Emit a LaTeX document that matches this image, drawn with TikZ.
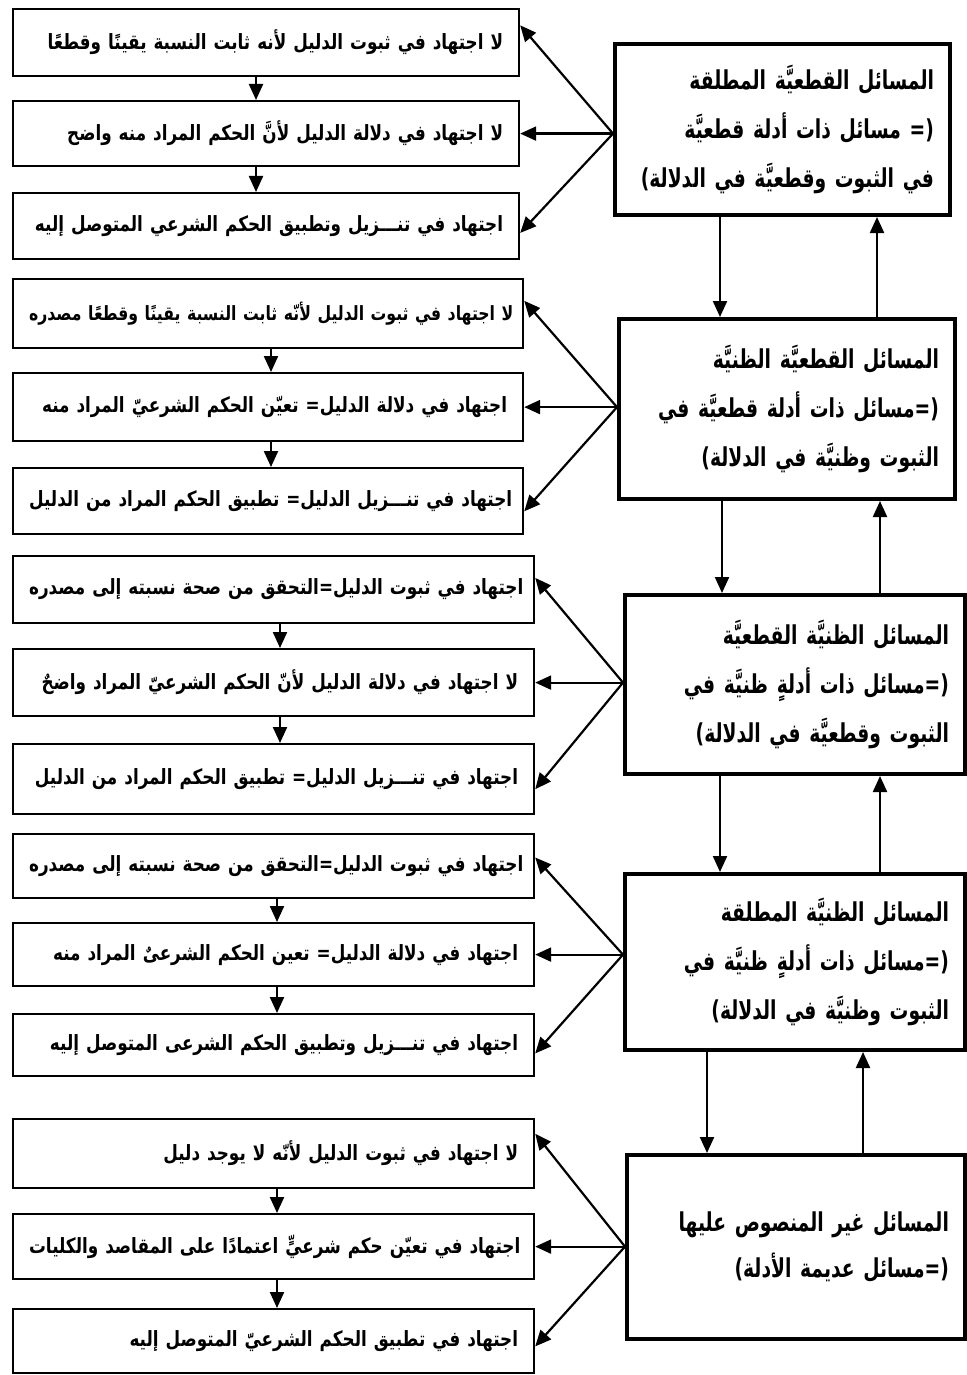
\documentclass[tikz,border=0pt]{standalone}
\usepackage{fontspec}
\newfontfamily\arabicfont[Script=Arabic,FakeStretch=0.8]{DejaVu Sans}
\newfontfamily\arabicmain[Script=Arabic,FakeStretch=0.72]{DejaVu Sans}
\TeXXeTstate=1
\usetikzlibrary{arrows.meta,calc}
\newcommand\rtltext[1]{\mbox{\beginR #1\endR}}
\tikzset{
  smallbox/.style={draw, line width=2.2pt, anchor=north west, inner xsep=16pt, inner ysep=0pt,
    align=right, font=\arabicfont\bfseries\fontsize{21}{25}\selectfont},
  mainbox/.style={draw, line width=4pt, anchor=north west, inner xsep=16pt, inner ysep=0pt,
    align=right, font=\arabicmain\bfseries\fontsize{26}{49}\selectfont},
  arr/.style={line width=2.2pt, -{Triangle[length=16pt,width=14pt]}},
}
\begin{document}
\begin{tikzpicture}[x=1pt,y=-1pt]
\useasboundingbox (0,0) rectangle (966,1375);
% group 1
\node[smallbox, minimum width=506pt, minimum height=67pt, text width=474pt] (a1) at (12,8) {\rtltext{لا اجتهاد في ثبوت الدليل لأنه ثابت النسبة يقينًا وقطعًا}};
\node[smallbox, minimum width=506pt, minimum height=65pt, text width=474pt] (a2) at (12,100) {\rtltext{لا اجتهاد في دلالة الدليل لأنَّ الحكم المراد منه واضح}};
\node[smallbox, minimum width=506pt, minimum height=66pt, text width=474pt] (a3) at (12,192) {\rtltext{اجتهاد في تنـــزيل وتطبيق الحكم الشرعي المتوصل إليه}};
\node[mainbox, minimum width=335pt, minimum height=171pt, text width=303pt] (m1) at (613,42) {\rtltext{المسائل القطعيَّة المطلقة}\\\rtltext{(= مسائل ذات أدلة قطعيَّة}\\\rtltext{في الثبوت وقطعيَّة في الدلالة)}};
% group 2
\node[smallbox, minimum width=510pt, minimum height=69pt, text width=478pt, font=\arabicfont\bfseries\fontsize{19.6}{24}\selectfont] (b1) at (12,278) {\rtltext{لا اجتهاد في ثبوت الدليل لأنّه ثابت النسبة يقينًا وقطعًا مصدره}};
\node[smallbox, minimum width=510pt, minimum height=68pt, text width=478pt] (b2) at (12,372) {\rtltext{اجتهاد في دلالة الدليل= تعيّن الحكم الشرعيّ المراد منه}};
\node[smallbox, minimum width=510pt, minimum height=66pt, text width=478pt] (b3) at (12,467) {\rtltext{اجتهاد في تنـــزيل الدليل= تطبيق الحكم المراد من الدليل}};
\node[mainbox, minimum width=336pt, minimum height=180pt, text width=304pt] (m2) at (617,317) {\rtltext{المسائل القطعيَّة الظنيَّة}\\\rtltext{(=مسائل ذات أدلة قطعيَّة في}\\\rtltext{الثبوت وظنيَّة في الدلالة)}};
% group 3
\node[smallbox, minimum width=521pt, minimum height=67pt, text width=489pt] (c1) at (12,555) {\rtltext{اجتهاد في ثبوت الدليل=التحقق من صحة نسبته إلى  مصدره}};
\node[smallbox, minimum width=521pt, minimum height=67pt, text width=489pt] (c2) at (12,648) {\rtltext{لا اجتهاد في دلالة الدليل لأنّ الحكم الشرعيّ المراد واضحٌ}};
\node[smallbox, minimum width=521pt, minimum height=70pt, text width=489pt] (c3) at (12,743) {\rtltext{اجتهاد في تنـــزيل الدليل= تطبيق الحكم المراد من الدليل}};
\node[mainbox, minimum width=340pt, minimum height=179pt, text width=308pt] (m3) at (623,593) {\rtltext{المسائل الظنيَّة القطعيَّة}\\\rtltext{(=مسائل ذات أدلةٍ ظنيَّة في}\\\rtltext{الثبوت وقطعيَّة في الدلالة)}};
% group 4
\node[smallbox, minimum width=521pt, minimum height=64pt, text width=489pt] (d1) at (12,833) {\rtltext{اجتهاد في ثبوت الدليل=التحقق من صحة نسبته إلى مصدره}};
\node[smallbox, minimum width=521pt, minimum height=63pt, text width=489pt] (d2) at (12,922) {\rtltext{اجتهاد في دلالة الدليل= تعين الحكم الشرعىٌ المراد منه}};
\node[smallbox, minimum width=521pt, minimum height=62pt, text width=489pt] (d3) at (12,1013) {\rtltext{اجتهاد في تنـــزيل وتطبيق الحكم الشرعى المتوصل إليه}};
\node[mainbox, minimum width=340pt, minimum height=176pt, text width=308pt] (m4) at (623,872) {\rtltext{المسائل الظنيَّة المطلقة}\\\rtltext{(=مسائل ذات أدلةٍ ظنيَّة في}\\\rtltext{الثبوت وظنيَّة في الدلالة)}};
% group 5
\node[smallbox, minimum width=521pt, minimum height=69pt, text width=489pt] (e1) at (12,1118) {\rtltext{لا اجتهاد في ثبوت الدليل لأنّه لا يوجد دليل}};
\node[smallbox, minimum width=521pt, minimum height=65pt, text width=489pt] (e2) at (12,1213) {\rtltext{اجتهاد في تعيّن حكم شرعيٍّ اعتمادًا على المقاصد والكليات}};
\node[smallbox, minimum width=521pt, minimum height=64pt, text width=489pt] (e3) at (12,1308) {\rtltext{اجتهاد في تطبيق الحكم الشرعيّ المتوصل إليه}};
\node[mainbox, minimum width=338pt, minimum height=184pt, text width=306pt, font=\arabicmain\bfseries\fontsize{26}{46}\selectfont] (m5) at (625,1153) {\rtltext{المسائل غير المنصوص عليها}\\\rtltext{(=مسائل عديمة الأدلة)}};
% fan-out origins on the main boxes
\coordinate (o1) at (m1.west |- a2.east);
\coordinate (o2) at (m2.west |- b2.east);
\coordinate (o3) at (m3.west |- c2.east);
\coordinate (o4) at (m4.west |- d2.east);
\coordinate (o5) at (m5.west |- e2.east);
% arrows from main boxes to left boxes
\draw[arr] (o1) -- ($(a1.north east)!0.25!(a1.south east)$);
\draw[arr] (o1) -- (a2.east);
\draw[arr] (o1) -- ($(a3.north east)!0.60!(a3.south east)$);
\draw[arr] (o2) -- ($(b1.north east)!0.32!(b1.south east)$);
\draw[arr] (o2) -- (b2.east);
\draw[arr] (o2) -- ($(b3.north east)!0.65!(b3.south east)$);
\draw[arr] (o3) -- ($(c1.north east)!0.33!(c1.south east)$);
\draw[arr] (o3) -- (c2.east);
\draw[arr] (o3) -- ($(c3.north east)!0.64!(c3.south east)$);
\draw[arr] (o4) -- ($(d1.north east)!0.37!(d1.south east)$);
\draw[arr] (o4) -- (d2.east);
\draw[arr] (o4) -- ($(d3.north east)!0.63!(d3.south east)$);
\draw[arr] (o5) -- ($(e1.north east)!0.22!(e1.south east)$);
\draw[arr] (o5) -- (e2.east);
\draw[arr] (o5) -- ($(e3.north east)!0.58!(e3.south east)$);
% arrows between left boxes
\coordinate (xa) at (256,0);
\coordinate (xb) at (271,0);
\coordinate (xc) at (280,0);
\coordinate (xd) at (277,0);
\coordinate (xe) at (277,0);
\draw[arr] (a1.south -| xa) -- (a2.north -| xa);
\draw[arr] (a2.south -| xa) -- (a3.north -| xa);
\draw[arr] (b1.south -| xb) -- (b2.north -| xb);
\draw[arr] (b2.south -| xb) -- (b3.north -| xb);
\draw[arr] (c1.south -| xc) -- (c2.north -| xc);
\draw[arr] (c2.south -| xc) -- (c3.north -| xc);
\draw[arr] (d1.south -| xd) -- (d2.north -| xd);
\draw[arr] (d2.south -| xd) -- (d3.north -| xd);
\draw[arr] (e1.south -| xe) -- (e2.north -| xe);
\draw[arr] (e2.south -| xe) -- (e3.north -| xe);
% arrows between main boxes
\coordinate (d12) at (720,0);
\coordinate (u12) at (877,0);
\coordinate (d23) at (722,0);
\coordinate (u23) at (880,0);
\coordinate (d34) at (720,0);
\coordinate (u34) at (880,0);
\coordinate (d45) at (707,0);
\coordinate (u45) at (863,0);
\draw[arr] (m1.south -| d12) -- (m2.north -| d12);
\draw[arr] (m2.north -| u12) -- (m1.south -| u12);
\draw[arr] (m2.south -| d23) -- (m3.north -| d23);
\draw[arr] (m3.north -| u23) -- (m2.south -| u23);
\draw[arr] (m3.south -| d34) -- (m4.north -| d34);
\draw[arr] (m4.north -| u34) -- (m3.south -| u34);
\draw[arr] (m4.south -| d45) -- (m5.north -| d45);
\draw[arr] (m5.north -| u45) -- (m4.south -| u45);
\end{tikzpicture}
\end{document}
